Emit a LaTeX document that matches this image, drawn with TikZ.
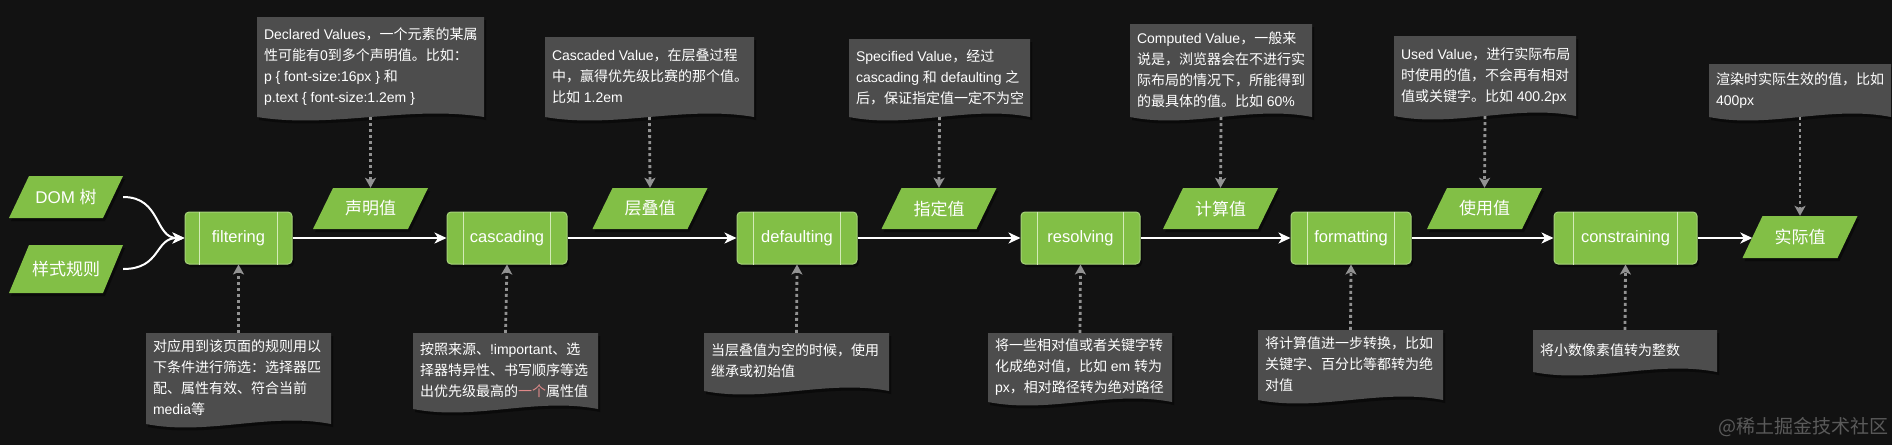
\documentclass[tikz,border=0pt]{standalone}
\usepackage{fontspec}
\setmainfont{Liberation Sans}
\newfontfamily\zhfont{Noto Sans CJK SC}
\newcommand\zh[1]{{\zhfont #1}}
\usetikzlibrary{arrows.meta,calc}
\definecolor{bgc}{HTML}{121212}
\definecolor{greenc}{HTML}{82BF46}
\definecolor{greenl}{HTML}{A6D27A}
\definecolor{innerc}{HTML}{D3EBB8}
\definecolor{notec}{HTML}{4D4D4D}
\definecolor{dotc}{HTML}{929292}
\definecolor{redc}{HTML}{E08A8A}
\definecolor{wmc}{HTML}{5A5A5A}
\definecolor{shadowc}{HTML}{0A0A0A}
\tikzset{
  procnode/.style={rectangle, rounded corners=4pt, fill=greenc, draw=greenl, line width=1pt,
    minimum height=52, inner sep=0pt, text=white, font=\fontsize{16.5}{20}\selectfont},
  innerline/.style={draw=innerc, line width=0.8pt},
  paranode/.style={rectangle, inner sep=0pt, text=white, font=\fontsize{17}{20}\selectfont},
  notenode/.style={rectangle, inner sep=0pt, text=white, font=\fontsize{14}{21}\selectfont},
  mainarrow/.style={draw=white, line width=2pt, -{Stealth[length=12pt,width=11pt,inset=3.5pt]}},
  dotarrow/.style={draw=dotc, line width=2.8pt, dash pattern=on 3pt off 3pt,
    -{Stealth[length=10pt,width=11pt,inset=2.5pt]}},
}
\newcommand\para[6]{%
  \fill[shadowc, shift={(2,3)}] ({#2-#4/2},{#3+#5/2}) -- ({#2+#4/2-20},{#3+#5/2}) -- ({#2+#4/2},{#3-#5/2}) -- ({#2-#4/2+20},{#3-#5/2}) -- cycle;
  \fill[greenc] ({#2-#4/2},{#3+#5/2}) -- ({#2+#4/2-20},{#3+#5/2}) -- ({#2+#4/2},{#3-#5/2}) -- ({#2-#4/2+20},{#3-#5/2}) -- cycle;
  \node[paranode, minimum width={#4-20}, minimum height=#5] (#1) at (#2,#3) {#6};
}
\newcommand\proc[4]{%
  \fill[shadowc, rounded corners=4pt] ({#2-#3/2+2},215) rectangle ({#2+#3/2+2},267);
  \node[procnode, minimum width=#3] (#1) at (#2,238) {#4};
  \draw[innerline] ($(#1.north west)+({0.14*#3},0)$) -- ($(#1.south west)+({0.14*#3},0)$);
  \draw[innerline] ($(#1.north east)-({0.14*#3},0)$) -- ($(#1.south east)-({0.14*#3},0)$);
}
\newcommand\callout[6]{%
  \fill[shadowc, shift={(2,3)}] (#2,#3) -- (#4,#3) -- (#4,#5) .. controls ({#4-(#4-#2)/3},{#5-12}) and ({#2+(#4-#2)/3},{#5+12}) .. (#2,#5) -- cycle;
  \fill[notec] (#2,#3) -- (#4,#3) -- (#4,#5) .. controls ({#4-(#4-#2)/3},{#5-12}) and ({#2+(#4-#2)/3},{#5+12}) .. (#2,#5) -- cycle;
  \node[notenode, minimum width={#4-#2}, minimum height={#5-#3}] (#1) at ({(#2+#4)/2},{(#3+#5)/2})
    {\makebox[\dimexpr#4pt-#2pt-14pt\relax][l]{\begin{tabular}{@{}l@{}}#6\end{tabular}}};
}
\begin{document}
\begin{tikzpicture}[x=1pt,y=-1pt]
\fill[bgc] (0,0) rectangle (1892,445);
\useasboundingbox (0,0) rectangle (1892,445);

% parallelograms
\para{pdom}{66}{197}{114}{42}{DOM \zh{树}}
\para{prules}{66}{269}{114}{48}{\zh{样式规则}}
\para{pdecl}{370.5}{208.5}{115}{41}{\zh{声明值}}
\para{pcasc}{650}{208.5}{115}{41}{\zh{层叠值}}
\para{pspec}{939}{208.5}{115}{41}{\zh{指定值}}
\para{pcomp}{1220.5}{208.5}{115}{41}{\zh{计算值}}
\para{pused}{1484.5}{208.5}{115}{41}{\zh{使用值}}
\para{pactual}{1800}{237}{115}{42}{\zh{实际值}}

% process boxes
\proc{filtering}{238.5}{107}{filtering}
\proc{cascading}{507}{120}{cascading}
\proc{defaulting}{797}{120}{defaulting}
\proc{resolving}{1080.5}{119}{resolving}
\proc{formatting}{1351}{120}{formatting}
\proc{constraining}{1625.5}{143}{constraining}

% callouts (top)
\callout{nDecl}{257}{17}{484}{117}{Declared Values\zh{，一个元素的某属}\\ \zh{性可能有}0\zh{到多个声明值。比如：}\\ p \{ font-size:16px \} \zh{和}\\ p.text \{ font-size:1.2em \}}
\callout{nCasc}{545}{37}{754}{117}{Cascaded Value\zh{，在层叠过程}\\ \zh{中，赢得优先级比赛的那个值。}\\ \zh{比如} 1.2em}
\callout{nSpec}{849}{39}{1030}{117}{Specified Value\zh{，经过}\\ cascading \zh{和} defaulting \zh{之}\\ \zh{后，保证指定值一定不为空}}
\callout{nComp}{1130}{24}{1312}{117}{Computed Value\zh{，一般来}\\ \zh{说是，浏览器会在不进行实}\\ \zh{际布局的情况下，所能得到}\\ \zh{的最具体的值。比如} 60\%}
\callout{nUsed}{1394}{36}{1576}{116}{Used Value\zh{，进行实际布局}\\ \zh{时使用的值，不会再有相对}\\ \zh{值或关键字。比如} 400.2px}
\callout{nAct}{1709}{64}{1891}{117}{\zh{渲染时实际生效的值，比如}\\ 400px}

% callouts (bottom)
\callout{nFilt}{146}{333}{331}{424}{\zh{对应用到该页面的规则用以}\\ \zh{下条件进行筛选：选择器匹}\\ \zh{配、属性有效、符合当前}\\ media\zh{等}}
\callout{nCascB}{413}{333}{598}{409}{\zh{按照来源、}!important\zh{、选}\\ \zh{择器特异性、书写顺序等选}\\ \zh{出优先级最高的}{\color{redc}\zh{一个}}\zh{属性值}}
\callout{nDef}{704}{333}{889}{391}{\zh{当层叠值为空的时候，使用}\\ \zh{继承或初始值}}
\callout{nRes}{988}{333}{1172}{402}{\zh{将一些相对值或者关键字转}\\ \zh{化成绝对值，比如} em \zh{转为}\\ px\zh{，相对路径转为绝对路径}}
\callout{nFmt}{1258}{330}{1443}{400}{\zh{将计算值进一步转换，比如}\\ \zh{关键字、百分比等都转为绝}\\ \zh{对值}}
\callout{nCon}{1533}{330}{1717}{372}{\zh{将小数像素值转为整数}}

% main flow
\draw[mainarrow] ($(pdom.east)+(10,0)$) .. controls +(38,0) and +(-30,0) .. (filtering.west);
\draw[mainarrow] ($(prules.east)+(10,0)$) .. controls +(38,0) and +(-30,0) .. (filtering.west);
\draw[mainarrow] (filtering.east) -- (cascading.west);
\draw[mainarrow] (cascading.east) -- (defaulting.west);
\draw[mainarrow] (defaulting.east) -- (resolving.west);
\draw[mainarrow] (resolving.east) -- (formatting.west);
\draw[mainarrow] (formatting.east) -- (constraining.west);
\draw[mainarrow] (constraining.east) -- (constraining.east -| pactual.west);

% dotted annotations
\draw[dotarrow] (nDecl.south) -- (pdecl.north);
\draw[dotarrow] (nCasc.south) -- (pcasc.north);
\draw[dotarrow] (nSpec.south) -- (pspec.north);
\draw[dotarrow] (nComp.south) -- (pcomp.north);
\draw[dotarrow] (nUsed.south) -- (pused.north);
\draw[dotarrow] (nAct.south) -- (pactual.north);
\draw[dotarrow] (nFilt.north) -- (filtering.south);
\draw[dotarrow] (nCascB.north) -- (cascading.south);
\draw[dotarrow] (nDef.north) -- (defaulting.south);
\draw[dotarrow] (nRes.north) -- (resolving.south);
\draw[dotarrow] (nFmt.north) -- (formatting.south);
\draw[dotarrow] (nCon.north) -- (constraining.south);

% watermark
\node[text=wmc, font=\fontsize{19}{24}\selectfont, inner sep=0pt] (wm) at (1803,427) {\zh{@稀土掘金技术社区}};
\end{tikzpicture}
\end{document}
